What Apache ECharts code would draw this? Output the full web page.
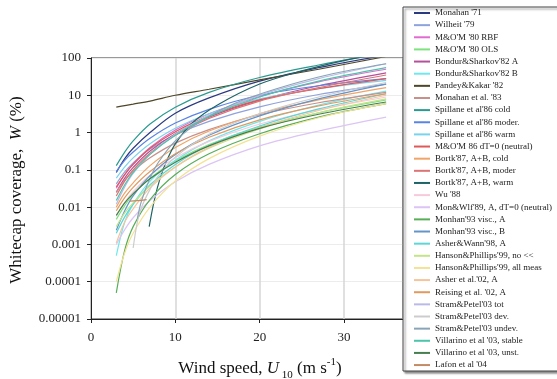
<!DOCTYPE html>
<html>
<head>
<meta charset="utf-8">
<script src="https://cdn.jsdelivr.net/npm/echarts/dist/echarts.min.js"></script>
<style>
  html, body { margin: 0; padding: 0; background: #fff; }
  #main { width: 557px; height: 379px; }
</style>
</head>
<body>
<div id="main"></div>
<script>
// wind speed grid (m/s) shared by most curves
const windSpeed = [3, 4, 5, 7, 10, 14, 20, 27, 35];
// curves that start later / have their own x values
const bortkWarmU = [6.9, 7.5, 8.2, 9, 10, 12, 15, 20, 25, 30, 35];
const stramDevU = [5, 5.5, 6, 7, 8, 10, 14, 20, 27, 35];
const stramUndevU = [5.5, 6, 7, 8, 10, 13, 17, 22, 28, 35];
const lafonU = [4.6, 5.5, 6.6];

// whitecap coverage W (%)
const monahan71 = [0.085, 0.2, 0.38, 1.0, 3.3, 8.5, 24, 55, 120];
const wilheit79 = [0.042, 0.088, 0.154, 0.36, 0.87, 2.0, 4.9, 10.5, 20];
const momRbf80 = [0.032, 0.075, 0.145, 0.4, 1.17, 3.2, 9.3, 23, 50];
const momOls80 = [0.0047, 0.011, 0.022, 0.06, 0.175, 0.48, 1.4, 3.4, 7.5];
const bondurA82 = [0.025, 0.06, 0.116, 0.32, 0.93, 2.6, 7.4, 18, 40];
const bondurB82 = [0.0005, 0.004, 0.012, 0.05, 0.18, 0.6, 2.0, 5.5, 13];
const pandeyKakar82 = [4.8, 5.3, 5.8, 7, 10, 14.5, 26, 50, 110];
const monahan83 = [0.025, 0.053, 0.092, 0.21, 0.52, 1.2, 3.0, 6.3, 12];
const spillaneCold = [0.13, 0.3, 0.6, 1.7, 4.8, 12, 30, 65, 140];
const spillaneModer = [0.09, 0.18, 0.3, 0.7, 1.8, 4.2, 10, 18, 28];
const spillaneWarm = [0.06, 0.12, 0.21, 0.5, 1.3, 3.2, 8, 15, 25];
const mom86 = [0.035, 0.075, 0.14, 0.38, 1.05, 2.8, 7.5, 15, 28];
const bortkCold = [0.01, 0.024, 0.045, 0.13, 0.4, 1.1, 3.2, 7.5, 16];
const bortkModer = [0.02, 0.05, 0.1, 0.28, 0.85, 2.4, 7, 16, 35];
const bortkWarm = [0.003, 0.015, 0.06, 0.18, 0.5, 1.8, 5.5, 20, 45, 85, 140];
const wu88 = [0.0057, 0.0135, 0.026, 0.072, 0.21, 0.58, 1.7, 4.1, 9];
const monWolf89 = [0.001, 0.0025, 0.0052, 0.015, 0.048, 0.14, 0.44, 1.1, 2.6];
const monahan93A = [0.00005, 0.0007, 0.003, 0.016, 0.075, 0.27, 0.93, 2.6, 6];
const monahan93B = [0.0024, 0.008, 0.02, 0.07, 0.26, 0.85, 2.8, 8, 20];
const asherWann98 = [0.002, 0.0055, 0.012, 0.04, 0.14, 0.45, 1.5, 4.3, 11];
const hansonNo = [0.003, 0.007, 0.013, 0.037, 0.12, 0.38, 1.25, 3.4, 8];
const hansonAll = [0.0001, 0.0006, 0.002, 0.01, 0.05, 0.2, 0.8, 2.5, 6];
const asher02 = [0.0011, 0.004, 0.009, 0.033, 0.12, 0.4, 1.35, 3.9, 10];
const reising02 = [0.008, 0.018, 0.034, 0.09, 0.27, 0.75, 2.2, 5.2, 11];
const stramTot = [0.012, 0.035, 0.08, 0.26, 0.9, 2.9, 10, 28, 70];
const stramDev = [0.0008, 0.004, 0.01, 0.03, 0.07, 0.22, 0.9, 3.2, 9, 22];
const stramUndev = [0.005, 0.015, 0.06, 0.16, 0.6, 2, 6, 15, 35, 70];
const villarinoStable = [0.015, 0.04, 0.085, 0.26, 0.85, 2.7, 9, 24, 55];
const villarinoUnst = [0.006, 0.013, 0.023, 0.058, 0.16, 0.44, 1.3, 3.1, 6.6];
const lafon04 = [0.0145, 0.015, 0.016];

const names = [
  "Monahan '71", "Wilheit '79", "M&O'M '80 RBF", "M&O'M '80 OLS",
  "Bondur&Sharkov'82 A", "Bondur&Sharkov'82 B", "Pandey&Kakar '82",
  "Monahan et al. '83", "Spillane et al'86 cold", "Spillane et al'86 moder.",
  "Spillane et al'86 warm", "M&O'M 86 dT=0 (neutral)", "Bortk'87, A+B, cold",
  "Bortk'87, A+B, moder", "Bortk'87, A+B, warm", "Wu '88",
  "Mon&Wlf'89, A, dT=0 (neutral)", "Monhan'93 visc., A", "Monhan'93 visc., B",
  "Asher&Wann'98, A", "Hanson&Phillips'99, no <<", "Hanson&Phillips'99, all meas",
  "Asher et al.'02, A", "Reising et al. '02, A", "Stram&Petel'03 tot",
  "Stram&Petel'03 dev.", "Stram&Petel'03 undev.", "Villarino et al '03, stable",
  "Villarino et al '03, unst.", "Lafon et al '04"
];
const colors = [
  '#2b3a80', '#8ea2dc', '#e06cd2', '#7ee27e', '#b4509c', '#6ee8ec',
  '#4e4628', '#c8908a', '#2a9a90', '#5a84e4', '#78d4ec', '#e05858',
  '#f0a468', '#dc7474', '#1e6466', '#f6cadc', '#dcc4f4', '#58ae58',
  '#6494c8', '#5cd6d6', '#c4e488', '#f4e294', '#f6c49c', '#e09a60',
  '#babae6', '#cccccc', '#88a4b6', '#4cc4aa', '#467e4e', '#c48a64'
];
const xs = [
  windSpeed, windSpeed, windSpeed, windSpeed, windSpeed, windSpeed, windSpeed,
  windSpeed, windSpeed, windSpeed, windSpeed, windSpeed, windSpeed, windSpeed,
  bortkWarmU, windSpeed, windSpeed, windSpeed, windSpeed, windSpeed, windSpeed,
  windSpeed, windSpeed, windSpeed, windSpeed, stramDevU, stramUndevU, windSpeed,
  windSpeed, lafonU
];
const ys = [
  monahan71, wilheit79, momRbf80, momOls80, bondurA82, bondurB82, pandeyKakar82,
  monahan83, spillaneCold, spillaneModer, spillaneWarm, mom86, bortkCold, bortkModer,
  bortkWarm, wu88, monWolf89, monahan93A, monahan93B, asherWann98, hansonNo,
  hansonAll, asher02, reising02, stramTot, stramDev, stramUndev, villarinoStable,
  villarinoUnst, lafon04
];
const yTickLabels = ['0.00001', '0.0001', '0.001', '0.01', '0.1', '1', '10', '100'];

const serif = '"Liberation Serif", "DejaVu Serif", serif';

const chart = echarts.init(document.getElementById('main'));

const series = names.map((name, i) => ({
  name: name,
  type: 'line',
  data: xs[i].map((u, j) => [u, ys[i][j]]),
  symbol: 'none',
  smooth: 0.35,
  clip: true,
  silent: true,
  lineStyle: { color: colors[i], width: 1.2 },
  itemStyle: { color: colors[i] }
}));

chart.setOption({
  animation: false,
  grid: {
    left: 91, top: 58, right: 154, bottom: 60,
    show: true, borderColor: '#333', borderWidth: 1, backgroundColor: 'transparent'
  },
  xAxis: {
    type: 'value',
    min: 0, max: 37, interval: 10,
    axisLine: { show: true, lineStyle: { color: '#222', width: 1 } },
    axisTick: { show: true, inside: false, length: 4, lineStyle: { color: '#222' } },
    axisLabel: { showMaxLabel: false, margin: 12, fontSize: 13, fontFamily: serif, color: '#222' },
    splitLine: { show: true, lineStyle: { color: '#d6d6d6', width: 1.5 } }
  },
  yAxis: {
    type: 'log',
    logBase: 10,
    min: 0.00001, max: 100,
    axisLine: { show: true, lineStyle: { color: '#222', width: 1 } },
    axisTick: { show: true, inside: false, length: 4, lineStyle: { color: '#222' } },
    axisLabel: {
      margin: 10, fontSize: 13, fontFamily: serif, color: '#222',
      formatter: v => yTickLabels[Math.round(Math.log10(v)) + 5]
    },
    splitLine: { show: true, lineStyle: { color: '#ececec', width: 1 } }
  },
  legend: {
    orient: 'vertical',
    left: 414, top: 8,
    padding: 0,
    icon: 'rect',
    itemWidth: 16, itemHeight: 2, itemGap: 2.14,
    z: 20,
    selectedMode: false,
    data: names,
    textStyle: { fontFamily: serif, fontSize: 9, color: '#222', lineHeight: 10 }
  },
  graphic: [
    {
      type: 'rect', z: 10,
      shape: { x: 403, y: 7, width: 170, height: 364 },
      style: {
        fill: '#fff', stroke: '#444', lineWidth: 1,
        shadowColor: 'rgba(0,0,0,0.45)', shadowBlur: 2, shadowOffsetX: 2, shadowOffsetY: 2
      }
    },
    {
      type: 'text', z: 10,
      x: 17, y: 190, rotation: Math.PI / 2,
      style: {
        text: 'Whitecap coverage,  {i|W} (%)',
        fontFamily: serif, fontSize: 17, fill: '#111',
        align: 'center', verticalAlign: 'middle',
        rich: { i: { fontStyle: 'italic', fontFamily: serif, fontSize: 17, fill: '#111' } }
      }
    },
    {
      type: 'text', z: 10,
      x: 260, y: 369,
      style: {
        text: 'Wind speed, {i|U}{sub| 10} (m s{sup|-1})',
        fontFamily: serif, fontSize: 17, fill: '#111',
        align: 'center', verticalAlign: 'middle', lineHeight: 24,
        rich: {
          i: { fontStyle: 'italic', fontFamily: serif, fontSize: 17, fill: '#111', lineHeight: 24 },
          sub: { fontFamily: serif, fontSize: 11, fill: '#111', verticalAlign: 'bottom' },
          sup: { fontFamily: serif, fontSize: 11, fill: '#111', verticalAlign: 'top' }
        }
      }
    }
  ],
  series: series
});
</script>
</body>
</html>
